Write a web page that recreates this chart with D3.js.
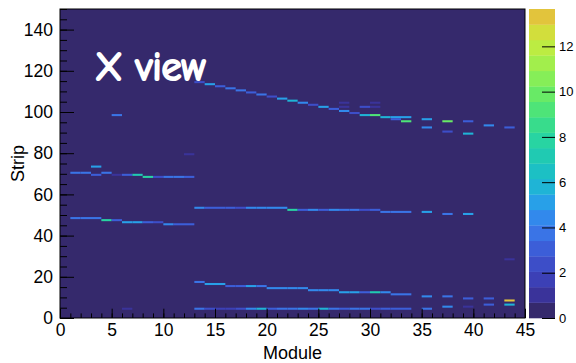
<!DOCTYPE html>
<html>
<head>
<meta charset="utf-8">
<script src="https://cdn.jsdelivr.net/npm/d3@7"></script>
<style>
  html, body { margin: 0; padding: 0; background: #ffffff; }
  svg { display: block; }
  text { font-family: "Liberation Sans", Arial, Helvetica, sans-serif; }
</style>
</head>
<body>
<svg id="chart" width="576" height="363"></svg>
<script>
// ---- data: one entry per filled bin (module, strip, hits) ----
const cellModule = [
  1,2,3,3,4,5,5,6,7,8,9,10,11,12,12,
  1,2,3,4,5,6,7,8,9,10,11,12,
  13,14,15,16,17,18,19,20,21,22,23,24,25,26,27,28,29,30,31,32,33,35,37,39,
  13,14,15,16,17,18,19,20,21,22,23,24,25,26,27,28,29,30,31,32,33,35,37,39,41,43,
  6,13,14,15,16,17,18,19,20,21,22,23,24,25,26,27,28,29,30,31,32,33,35,37,39,41,43,
  13,14,15,16,17,18,19,20,21,22,23,24,25,26,27,27,27,28,29,29,30,30,30,31,32,32,33,33,35,35,37,37,39,39,41,43,43
];
const cellStrip = [
  70,70,73,69,70,69,98,69,69,68,68,68,68,68,79,
  48,48,48,47,47,46,46,46,46,45,45,45,
  53,53,53,53,53,53,53,53,53,52,52,52,52,52,52,52,52,52,51,51,51,51,50,50,
  17,16,16,15,15,15,15,14,14,14,14,13,13,13,12,12,12,12,12,11,11,10,10,9,9,8,
  4,4,4,4,4,4,4,4,4,4,4,4,4,4,4,4,4,4,4,4,4,4,4,5,5,6,6,
  114,113,112,111,110,109,108,107,106,105,104,103,102,101,104,102,100,99,102,98,104,102,98,97,97,96,97,95,96,92,95,90,95,89,93,92,28
];
const cellHits = [
  3.7,3.7,5,3,3.7,1.2,3.7,3,7,8,2.2,3.7,3.7,3,1,
  3.7,3.7,3.7,8,3,5,5,3,2.2,4.4,3,3,
  4.4,3,3,3,2.2,4.4,4.4,4.4,4.4,8,3,4.4,3,4.4,3.7,3.7,2.2,3,3.7,3.7,3.7,5,3.7,5,
  3.7,5,5,3,3,5,3.7,4.4,4.4,4.4,4.4,4.4,4.4,4.4,5,5,3,7,4.4,3.7,3.7,4.4,3.7,3,3,13,
  1,3.7,2.2,1.5,1.5,2.2,4.4,5.8,3,3.7,3.7,4.4,3.7,5.8,3.7,3,3.7,3.7,2.2,3,3,3,3.7,4.4,1.2,3,5.8,
  2.2,5,3,3.7,3.7,3,3.7,2.2,5,5.8,4.4,2.2,5,3,1.2,1.2,4.4,2.2,2.2,5.8,1.2,1.2,9.2,5.8,5,3,5,9.2,5,4.4,10,2.2,3,5.8,4.4,3,1.2
];
const xTicks = [0,5,10,15,20,25,30,35,40,45];
const yTicks = [0,20,40,60,80,100,120,140];
const zTicks = [0,2,4,6,8,10,12];
const zMax = 13.65;
const nBands = 20;
const bandColors = [
  "#35296c","#3a339a","#3c40b6","#3d4ec8","#3c5ed8","#3a74e6","#3289ec","#28a0e8","#1fb4d6","#1cc0c4",
  "#20cab2","#28d4a2","#38dc8c","#4ee478","#68ea66","#86ee58","#a2ee4c","#bcec42","#d2de3c","#e2c43c"
];

const svg = d3.select("#chart");
const x = d3.scaleLinear().domain([0, 45]).range([60, 525]);
const y = d3.scaleLinear().domain([0, 150]).range([318, 9]);
const band = d3.scaleQuantize().domain([0, zMax]).range(d3.range(nBands));
const colorOf = v => bandColors[band(Math.min(v, zMax - 1e-6))];

// frame background (empty bins)
svg.append("rect")
  .attr("x", x(0)).attr("y", y(150))
  .attr("width", x(45) - x(0)).attr("height", y(0) - y(150))
  .attr("fill", bandColors[0]);

const cells = cellModule.map((m, i) => ({ m, s: cellStrip[i], v: cellHits[i] }));
svg.append("g").selectAll("rect").data(cells).join("rect")
  .attr("x", d => x(d.m))
  .attr("y", d => y(d.s + 1))
  .attr("width", d => x(d.m + 1) - x(d.m))
  .attr("height", d => y(d.s) - y(d.s + 1))
  .attr("fill", d => colorOf(d.v));

// "X view" label
svg.append("text")
  .attr("x", 95).attr("y", 80)
  .attr("fill", "#ffffff")
  .attr("stroke", "#ffffff").attr("stroke-width", 2.2).attr("stroke-linejoin", "round")
  .style("font-family", "'Comic Sans MS','Comic Neue','DejaVu Sans',sans-serif")
  .style("font-size", "40px")
  .text("X view");

// axes
const fontSize = 17.5;
const xMinor = svg.append("g").attr("transform", `translate(0,${y(0)})`)
  .call(d3.axisBottom(x).tickValues(d3.range(0, 46, 1)).tickSize(-4.6).tickFormat(""));
const xAxis = svg.append("g").attr("transform", `translate(0,${y(0)})`)
  .call(d3.axisBottom(x).tickValues(xTicks).tickSize(-9.3).tickPadding(6).tickFormat(d3.format("d")));
const yMinor = svg.append("g").attr("transform", `translate(${x(0)},0)`)
  .call(d3.axisLeft(y).tickValues(d3.range(0, 151, 5)).tickSize(-7).tickFormat(""));
const yAxis = svg.append("g").attr("transform", `translate(${x(0)},0)`)
  .call(d3.axisLeft(y).tickValues(yTicks).tickSize(-14).tickPadding(7).tickFormat(d3.format("d")));
[xMinor, xAxis, yMinor, yAxis].forEach(g => {
  g.select(".domain").remove();
  g.selectAll("line").attr("stroke", "#000").attr("stroke-width", 1);
  g.selectAll("text").attr("fill", "#000")
    .style("font-family", "'Liberation Sans', Arial, sans-serif")
    .style("font-size", fontSize + "px");
});

// frame
svg.append("rect")
  .attr("x", x(0)).attr("y", y(150))
  .attr("width", x(45) - x(0)).attr("height", y(0) - y(150))
  .attr("fill", "none").attr("stroke", "#000").attr("stroke-width", 1);

// axis titles
svg.append("text")
  .attr("x", (x(0) + x(45)) / 2).attr("y", 359)
  .attr("text-anchor", "middle")
  .style("font-size", "18px")
  .text("Module");
svg.append("text")
  .attr("transform", `translate(24,${(y(0) + y(150)) / 2}) rotate(-90)`)
  .attr("text-anchor", "middle")
  .style("font-size", "18px")
  .text("Strip");

// colour bar
const zx0 = 529, zx1 = 555;
const z = d3.scaleLinear().domain([0, zMax]).range([318, 9]);
const bands = d3.range(nBands).map(i => ({ i, lo: i * zMax / nBands, hi: (i + 1) * zMax / nBands }));
svg.append("g").selectAll("rect").data(bands).join("rect")
  .attr("x", zx0).attr("width", zx1 - zx0)
  .attr("y", d => z(d.hi)).attr("height", d => z(d.lo) - z(d.hi) + 0.3)
  .attr("fill", d => bandColors[d.i]);
const zAxis = svg.append("g").attr("transform", `translate(${zx1},0)`)
  .call(d3.axisRight(z).tickValues(zTicks).tickSize(-13).tickPadding(4).tickFormat(d3.format("d")));
zAxis.select(".domain").remove();
zAxis.selectAll("line").attr("stroke", "#000");
zAxis.selectAll("text").attr("fill", "#000")
  .style("font-family", "'Liberation Sans', Arial, sans-serif")
  .style("font-size", "13px");
</script>
</body>
</html>
